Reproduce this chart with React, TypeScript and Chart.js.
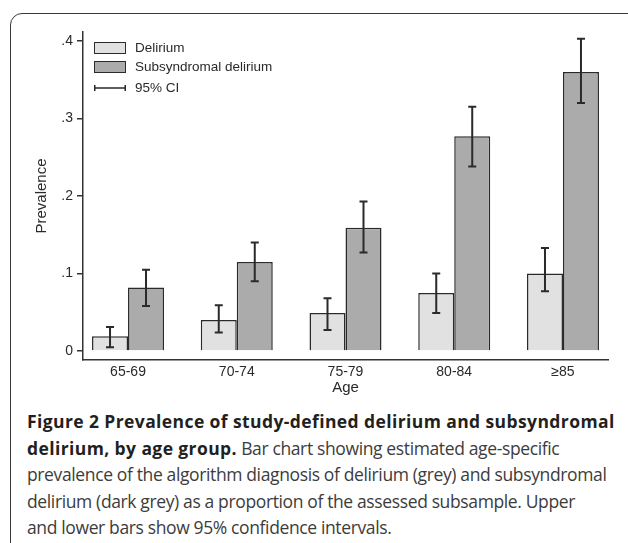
import React, { useEffect, useRef } from "react";
import { Chart, registerables } from "chart.js";

Chart.register(...registerables);

const categories = ["65-69", "70-74", "75-79", "80-84", "≥85"];
const deliriumValues = [0.019, 0.04, 0.049, 0.075, 0.1];
const deliriumLower = [0.005, 0.024, 0.027, 0.049, 0.077];
const deliriumUpper = [0.031, 0.059, 0.068, 0.1, 0.133];
const subValues = [0.082, 0.115, 0.159, 0.277, 0.36];
const subLower = [0.058, 0.09, 0.127, 0.238, 0.32];
const subUpper = [0.105, 0.14, 0.193, 0.315, 0.403];
const yTicks = [0, 0.1, 0.2, 0.3, 0.4];
const yTickLabels = ["0", ".1", ".2", ".3", ".4"];
const seriesLabels = ["Delirium", "Subsyndromal delirium"];
const ciLabel = "95% CI";
const xTitle = "Age";
const yTitle = "Prevalence";

const lows = [deliriumLower, subLower];
const highs = [deliriumUpper, subUpper];

const FONT = "'Liberation Sans', Arial, sans-serif";
const INK = "#2a2a2a";

const errorBarPlugin = {
  id: "errorBars",
  afterDatasetsDraw(chart: any) {
    const ctx = chart.ctx;
    const y = chart.scales.y;
    ctx.save();
    ctx.strokeStyle = INK;
    ctx.lineWidth = 2;
    chart.data.datasets.forEach((_: any, d: number) => {
      const meta = chart.getDatasetMeta(d);
      meta.data.forEach((el: any, i: number) => {
        const x = el.x;
        const y1 = y.getPixelForValue(lows[d][i]);
        const y2 = y.getPixelForValue(highs[d][i]);
        ctx.beginPath();
        ctx.moveTo(x, y1);
        ctx.lineTo(x, y2);
        ctx.moveTo(x - 4, y1);
        ctx.lineTo(x + 4, y1);
        ctx.moveTo(x - 4, y2);
        ctx.lineTo(x + 4, y2);
        ctx.stroke();
      });
    });
    ctx.restore();
  },
};

const legendPlugin = {
  id: "insideLegend",
  afterDraw(chart: any) {
    const ctx = chart.ctx;
    const ds = chart.data.datasets;
    const bx = chart.chartArea.left + 11;
    const tx = bx + 41;
    ctx.save();
    ctx.font = `13.5px ${FONT}`;
    ctx.textBaseline = "middle";
    ctx.textAlign = "left";
    const rows = [42, 61];
    ds.forEach((d: any, i: number) => {
      ctx.fillStyle = d.backgroundColor;
      ctx.fillRect(bx, rows[i], 32, 12);
      ctx.strokeStyle = INK;
      ctx.lineWidth = 1;
      ctx.strokeRect(bx + 0.5, rows[i] + 0.5, 31, 11);
      ctx.fillStyle = INK;
      ctx.fillText(d.label, tx, rows[i] + 6.5);
    });
    const cy = 88;
    ctx.strokeStyle = INK;
    ctx.lineWidth = 1.5;
    ctx.beginPath();
    ctx.moveTo(bx, cy);
    ctx.lineTo(bx + 32, cy);
    ctx.moveTo(bx + 0.75, cy - 3);
    ctx.lineTo(bx + 0.75, cy + 3);
    ctx.moveTo(bx + 31.25, cy - 3);
    ctx.lineTo(bx + 31.25, cy + 3);
    ctx.stroke();
    ctx.fillStyle = INK;
    ctx.fillText(ciLabel, tx, cy);
    ctx.restore();
  },
};

function ChartCanvas() {
  const ref = useRef<HTMLCanvasElement | null>(null);
  useEffect(() => {
    if (!ref.current) return;
    const chart = new Chart(ref.current, {
      type: "bar",
      data: {
        datasets: [
          {
            label: seriesLabels[0],
            data: deliriumValues.map((v, i) => ({ x: i + 1, y: v })),
            backgroundColor: "#e1e1e1",
            borderColor: INK,
            borderWidth: 1.5,
            categoryPercentage: 0.662,
            barPercentage: 1.0,
          },
          {
            label: seriesLabels[1],
            data: subValues.map((v, i) => ({ x: i + 1, y: v })),
            backgroundColor: "#ababab",
            borderColor: INK,
            borderWidth: 1.5,
            categoryPercentage: 0.662,
            barPercentage: 1.0,
          },
        ],
      },
      options: {
        animation: false,
        responsive: false,
        devicePixelRatio: 1,
        layout: { padding: { top: 32, right: 20, left: 0, bottom: 0 } },
        plugins: { legend: { display: false }, tooltip: { enabled: false } },
        scales: {
          x: {
            type: "linear",
            offset: false,
            min: 0.586,
            max: 5.414,
            afterBuildTicks: (s: any) => {
              s.ticks = categories.map((_, i) => ({ value: i + 1 }));
            },
            afterFit: (s: any) => {
              s.height = 40;
            },
            ticks: {
              callback: (_v: any, i: number) => categories[i],
              font: { family: FONT, size: 14 },
              color: INK,
              padding: 4,
              maxRotation: 0,
              autoSkip: false,
            },
            grid: { display: true, offset: false, drawOnChartArea: false, drawTicks: false },
            border: { display: true, color: "#333", width: 1.5 },
            title: {
              display: true,
              text: xTitle,
              font: { family: FONT, size: 15 },
              color: INK,
              padding: { top: 0, bottom: 3 },
            },
          },
          y: {
            type: "linear",
            min: -0.0116,
            max: 0.4116,
            afterBuildTicks: (s: any) => {
              s.ticks = yTicks.map((v) => ({ value: v }));
            },
            afterFit: (s: any) => {
              s.width = 83;
            },
            ticks: {
              callback: (_v: any, i: number) => yTickLabels[i],
              font: { family: FONT, size: 14 },
              color: INK,
              padding: 4,
            },
            grid: {
              display: true,
              drawOnChartArea: false,
              drawTicks: true,
              tickLength: 6,
              color: "#333",
              lineWidth: 1.5,
            },
            border: { display: true, color: "#333", width: 1.5 },
            title: {
              display: true,
              text: yTitle,
              font: { family: FONT, size: 15 },
              color: INK,
              padding: { top: 33, bottom: 0 },
            },
          },
        },
      },
      plugins: [errorBarPlugin, legendPlugin],
    } as any);
    return () => chart.destroy();
  }, []);
  return (
    <canvas
      ref={ref}
      width={628}
      height={400}
      style={{ position: "absolute", left: 0, top: 0, width: 628, height: 400 }}
    />
  );
}

const captionLines: { bold: string; rest: string }[] = [
  { bold: "Figure 2 Prevalence of study-defined delirium and subsyndromal", rest: "" },
  { bold: "delirium, by age group.", rest: " Bar chart showing estimated age-specific" },
  { bold: "", rest: "prevalence of the algorithm diagnosis of delirium (grey) and subsyndromal" },
  { bold: "", rest: "delirium (dark grey) as a proportion of the assessed subsample. Upper" },
  { bold: "", rest: "and lower bars show 95% confidence intervals." },
];

export default function App() {
  return (
    <div
      style={{
        position: "absolute",
        left: 0,
        top: 0,
        width: 628,
        height: 543,
        overflow: "hidden",
        background: "#fff",
      }}
    >
      <div
        style={{
          position: "absolute",
          left: 10,
          top: 13,
          width: 700,
          height: 600,
          border: "1.5px solid #3a3a3a",
          borderRadius: 12,
          boxSizing: "border-box",
        }}
      />
      <ChartCanvas />
      <div
        style={{
          position: "absolute",
          left: 27,
          top: 408,
          fontFamily: "'Open Sans', sans-serif",
          fontSize: 17.5,
          lineHeight: "26.6px",
          color: "#3c3c3c",
          whiteSpace: "nowrap",
          letterSpacing: "-0.37px",
        }}
      >
        {captionLines.map((l, i) => (
          <div key={i}>
            {l.bold && (
              <span style={{ fontWeight: 700, color: "#231f20", letterSpacing: "0.4px" }}>
                {l.bold}
              </span>
            )}
            {l.rest}
          </div>
        ))}
      </div>
    </div>
  );
}
